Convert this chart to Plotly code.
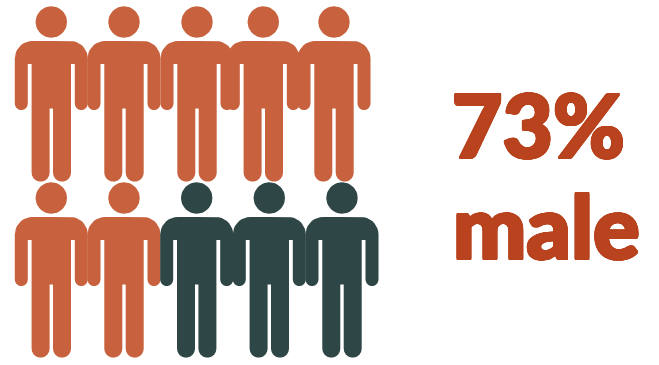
import numpy as np
import plotly.graph_objects as go

# Pictogram data: 10 icons, colour group of each, and the headline text
groups = ["male", "male", "male", "male", "male", "male", "male", "other", "other", "other"]
group_colors = {"male": "#C8613D", "other": "#2F4646"}
icon_rows = [0, 0, 0, 0, 0, 1, 1, 1, 1, 1]
icon_centers = [51.3, 124, 197, 263.3, 334, 51.3, 124, 196.7, 269.3, 342]
row_tops = [0, 176]
headline = "73%"
label = "male"
text_color = "#B8431E"


def arc(cx, cy, r, a0, a1, n=10):
    t = np.radians(np.linspace(a0, a1, n))
    return list(cx + r * np.cos(t)), list(cy + r * np.sin(t))


def person(cx, top):
    # outline of the figure's body, relative to its centre line
    xs, ys = [], []
    def add(p):
        xs.extend(p[0]); ys.extend(p[1])
    add(([0, 19], [41, 41]))
    add(arc(19, 58.5, 17.5, -90, 0))          # right shoulder
    add(arc(30, 103.5, 6.5, 0, 180))          # right hand
    add(([23.5, 23.5, 19.7], [64, 64, 64]))   # inner arm
    add(arc(10.7, 172.7, 9, 0, 180))          # right foot
    add(([1.7, 1.7, -1.7, -1.7], [172.7, 108.5, 108.5, 172.7]))
    add(arc(-10.7, 172.7, 9, 0, 180))         # left foot
    add(([-19.7, -23.5, -23.5], [64, 64, 64]))
    add(arc(-30, 103.5, 6.5, 0, 180))         # left hand
    add(arc(-19, 58.5, 17.5, 180, 270))       # left shoulder
    xs.append(0); ys.append(41)
    xs.append(None); ys.append(None)
    hx, hy = arc(0, 22, 15.7, 0, 360, 48)
    xs.extend(hx); ys.extend(hy)
    return [cx + x if x is not None else None for x in xs], [top + y if y is not None else None for y in ys]


fig = go.Figure()
for g, r, c in zip(groups, icon_rows, icon_centers):
    px, py = person(c, row_tops[r])
    fig.add_trace(go.Scatter(x=px, y=py, mode="lines", fill="toself", fillcolor=group_colors[g],
                             line=dict(width=0, color=group_colors[g]), hoverinfo="skip", showlegend=False))

w = 1.4
angles = np.radians(np.arange(0, 360, 22.5))
shadow = ", ".join(f"{w*np.cos(a):.2f}px {w*np.sin(a):.2f}px 0 {text_color}" for a in angles)
font = dict(family="Lato", size=87, color=text_color, weight=900, shadow=shadow)
fig.add_annotation(x=450, y=124, text=headline, showarrow=False, xanchor="left", yanchor="middle", font=font)
fig.add_annotation(x=451, y=225, text=label, showarrow=False, xanchor="left", yanchor="middle", font=font)

fig.update_xaxes(range=[0, 659], visible=False, fixedrange=True)
fig.update_yaxes(range=[365, 0], visible=False, fixedrange=True)
fig.update_layout(width=659, height=365, margin=dict(l=0, r=0, t=0, b=0),
                  paper_bgcolor="white", plot_bgcolor="white", showlegend=False)
fig.write_html("out.html", config={"displayModeBar": False},
               post_script="document.body.style.margin='0';document.body.style.overflow='hidden';")
